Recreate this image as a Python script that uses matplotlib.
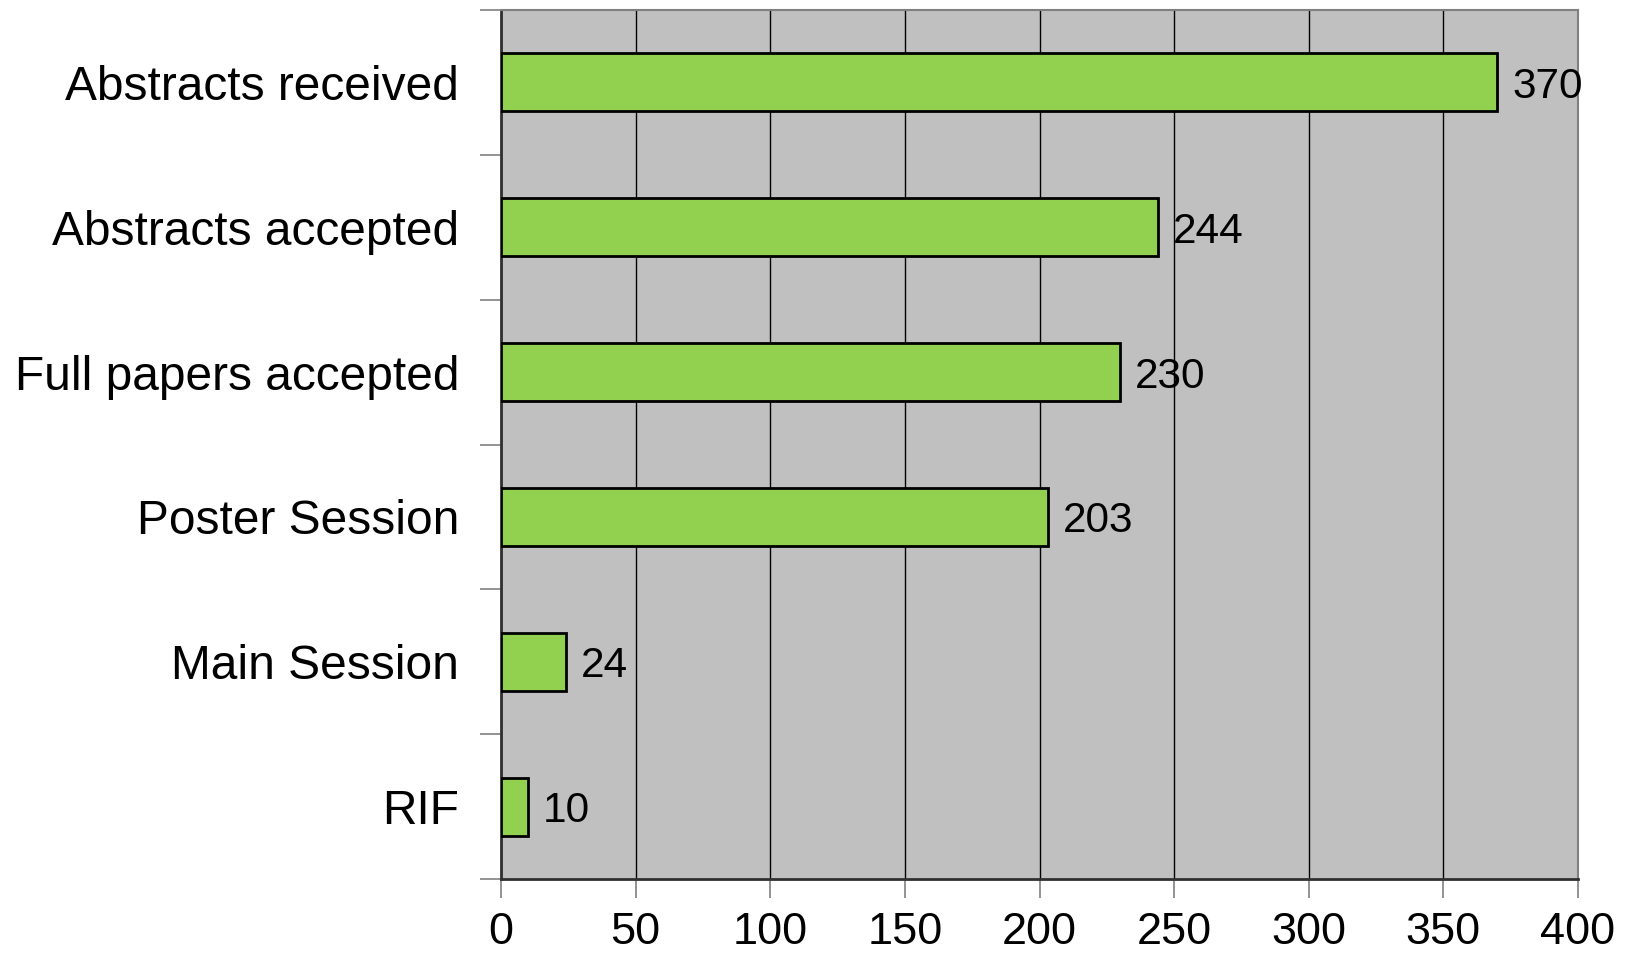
import numpy as np
import matplotlib
matplotlib.use('Agg')
import matplotlib.pyplot as plt

# chart data
categories = ['Abstracts received', 'Abstracts accepted', 'Full papers accepted',
              'Poster Session', 'Main Session', 'RIF']
counts = [370, 244, 230, 203, 24, 10]
xticks = [0, 50, 100, 150, 200, 250, 300, 350, 400]

plt.rcParams['font.family'] = ['Liberation Sans', 'DejaVu Sans']

fig = plt.figure(figsize=(16.35, 9.55), dpi=100)
ax = fig.add_axes([501/1635, 1 - 879/955, (1578 - 501)/1635, (879 - 10)/955])
ax.set_facecolor('#C0C0C0')

ypos = np.arange(len(categories))
ax.barh(ypos, counts, height=0.4, color='#92D050', edgecolor='black', linewidth=2, zorder=3)

for y, v in zip(ypos, counts):
    ax.text(v + 5.5, y, str(v), va='center_baseline', ha='left', fontsize=30.5, zorder=4)

ax.set_xlim(0, 400)
ax.set_ylim(len(categories) - 0.5, -0.5)
ax.set_xticks(xticks)
ax.set_xticklabels([str(t) for t in xticks], fontsize=32.5)
ax.xaxis.grid(True, color='black', linewidth=1, zorder=1)
ax.set_axisbelow(True)

ax.set_yticks(ypos)
ax.set_yticklabels(categories, fontsize=34.5)
ax.tick_params(axis='y', length=0, pad=30)
ax.set_yticks(np.arange(-0.5, len(categories), 1), minor=True)
ax.tick_params(axis='y', which='minor', length=15, color='#808080', width=1.2)
ax.tick_params(axis='x', length=14, color='#808080', width=1.2, pad=10)

ax.spines['left'].set_color('#303030')
ax.spines['left'].set_linewidth(2)
ax.spines['bottom'].set_color('#303030')
ax.spines['bottom'].set_linewidth(2)
ax.spines['top'].set_color('#808080')
ax.spines['top'].set_linewidth(1.5)
ax.spines['right'].set_color('#808080')
ax.spines['right'].set_linewidth(1.5)

fig.savefig('out.png', dpi=100)
